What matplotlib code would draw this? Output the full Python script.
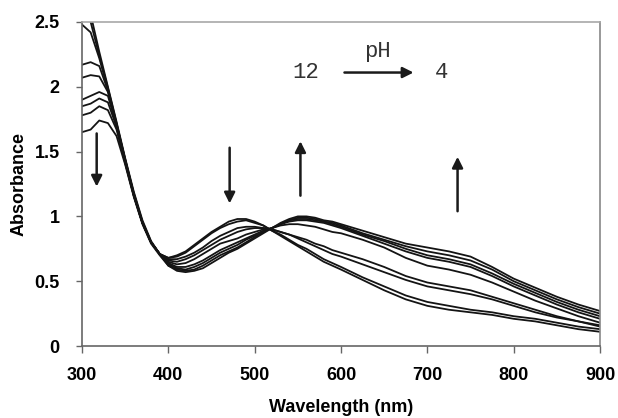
import matplotlib
matplotlib.use("Agg")
import matplotlib.pyplot as plt
import numpy as np

wavelength = [300, 310, 320, 330, 340, 350, 360, 370, 380, 390, 400, 410, 420, 430, 440,
              450, 460, 470, 480, 490, 500, 510, 520, 530, 540, 550, 560, 570, 580, 590,
              600, 625, 650, 675, 700, 725, 750, 775, 800, 825, 850, 875, 900]

# spectra from pH 12 (first) to pH 4 (last)
ph12_a = [2.85, 2.56, 2.27, 2.00, 1.73, 1.45, 1.19, 0.97, 0.81, 0.71, 0.68, 0.70, 0.73, 0.78, 0.83,
          0.88, 0.92, 0.96, 0.98, 0.98, 0.96, 0.93, 0.89, 0.85, 0.81, 0.77, 0.73, 0.69, 0.65, 0.62,
          0.59, 0.51, 0.43, 0.36, 0.31, 0.28, 0.26, 0.24, 0.21, 0.19, 0.16, 0.13, 0.11]
ph12_b = [2.72, 2.50, 2.24, 1.99, 1.72, 1.44, 1.18, 0.96, 0.80, 0.71, 0.68, 0.69, 0.72, 0.77, 0.82,
          0.87, 0.91, 0.94, 0.96, 0.97, 0.95, 0.93, 0.89, 0.86, 0.82, 0.78, 0.75, 0.71, 0.67, 0.64,
          0.61, 0.53, 0.46, 0.39, 0.34, 0.31, 0.28, 0.26, 0.23, 0.21, 0.18, 0.15, 0.13]
mid_a = [2.48, 2.42, 2.22, 1.98, 1.71, 1.44, 1.17, 0.95, 0.80, 0.71, 0.67, 0.67, 0.69, 0.72, 0.76,
         0.81, 0.85, 0.88, 0.91, 0.92, 0.92, 0.91, 0.90, 0.88, 0.86, 0.84, 0.82, 0.79, 0.77, 0.74,
         0.72, 0.67, 0.61, 0.54, 0.49, 0.46, 0.43, 0.38, 0.33, 0.28, 0.23, 0.19, 0.15]
mid_b = [2.17, 2.19, 2.16, 1.97, 1.71, 1.43, 1.17, 0.95, 0.80, 0.71, 0.66, 0.65, 0.67, 0.70, 0.74,
         0.78, 0.82, 0.85, 0.88, 0.90, 0.91, 0.91, 0.90, 0.88, 0.86, 0.83, 0.80, 0.77, 0.74, 0.71,
         0.69, 0.63, 0.57, 0.51, 0.46, 0.43, 0.40, 0.36, 0.31, 0.26, 0.22, 0.19, 0.16]
mid_c = [2.07, 2.09, 2.08, 1.96, 1.70, 1.43, 1.17, 0.95, 0.80, 0.71, 0.65, 0.63, 0.64, 0.67, 0.71,
         0.75, 0.79, 0.81, 0.83, 0.86, 0.88, 0.90, 0.91, 0.93, 0.94, 0.94, 0.93, 0.92, 0.90, 0.88,
         0.87, 0.82, 0.76, 0.68, 0.62, 0.59, 0.55, 0.49, 0.42, 0.35, 0.29, 0.23, 0.18]
ph4_a = [1.90, 1.93, 1.96, 1.93, 1.70, 1.42, 1.16, 0.95, 0.80, 0.71, 0.64, 0.61, 0.61, 0.63, 0.66,
         0.70, 0.74, 0.77, 0.80, 0.83, 0.86, 0.89, 0.91, 0.94, 0.96, 0.97, 0.97, 0.96, 0.95, 0.93,
         0.91, 0.85, 0.79, 0.73, 0.68, 0.65, 0.61, 0.54, 0.46, 0.39, 0.32, 0.26, 0.21]
ph4_b = [1.85, 1.87, 1.91, 1.88, 1.69, 1.42, 1.16, 0.95, 0.80, 0.71, 0.63, 0.60, 0.59, 0.61, 0.64,
         0.68, 0.72, 0.75, 0.78, 0.82, 0.85, 0.88, 0.91, 0.94, 0.97, 0.98, 0.98, 0.97, 0.96, 0.94,
         0.92, 0.86, 0.81, 0.75, 0.70, 0.67, 0.63, 0.56, 0.48, 0.41, 0.34, 0.28, 0.23]
ph4_c = [1.78, 1.80, 1.85, 1.82, 1.67, 1.41, 1.16, 0.95, 0.80, 0.71, 0.62, 0.59, 0.58, 0.59, 0.62,
         0.66, 0.70, 0.73, 0.76, 0.80, 0.84, 0.88, 0.91, 0.94, 0.97, 0.99, 0.99, 0.98, 0.96, 0.95,
         0.93, 0.87, 0.82, 0.77, 0.73, 0.70, 0.66, 0.59, 0.50, 0.43, 0.36, 0.30, 0.25]
ph4_d = [1.65, 1.67, 1.74, 1.72, 1.62, 1.40, 1.15, 0.94, 0.79, 0.70, 0.62, 0.58, 0.57, 0.58, 0.60,
         0.64, 0.68, 0.72, 0.75, 0.79, 0.83, 0.87, 0.91, 0.95, 0.98, 1.00, 1.00, 0.99, 0.97, 0.96,
         0.94, 0.89, 0.84, 0.79, 0.76, 0.73, 0.69, 0.61, 0.52, 0.45, 0.38, 0.32, 0.27]

spectra = [ph12_a, ph12_b, mid_a, mid_b, mid_c, ph4_a, ph4_b, ph4_c, ph4_d]

x_ticks = [300, 400, 500, 600, 700, 800, 900]
y_ticks = [0, 0.5, 1, 1.5, 2, 2.5]
y_tick_labels = ["0", "0.5", "1", "1.5", "2", "2.5"]

# arrows showing the change from pH 12 to pH 4: (wavelength, start, end)
trend_arrows = [(317, 1.64, 1.23), (471, 1.53, 1.10), (553, 1.16, 1.58), (735, 1.04, 1.46)]

fig = plt.figure(figsize=(6.18, 4.18), dpi=100)
ax = fig.add_axes([0.1327, 0.1722, 0.8382, 0.7752])

x = np.array(wavelength)
for s in spectra:
    ax.plot(x, np.array(s), '-', c="#141414", lw=1.3)

for wl, y0, y1 in trend_arrows:
    ax.annotate("", xy=(wl, y1), xytext=(wl, y0),
                arrowprops=dict(arrowstyle="-|>", color="#1a1a1a", lw=1.8, mutation_scale=16,
                                shrinkA=0, shrinkB=0))

mono = "Liberation Mono"
ax.text(559, 2.11, "12", family=mono, fontsize=16, ha="center", va="center", color="#333333")
ax.text(716, 2.11, "4", family=mono, fontsize=16, ha="center", va="center", color="#333333")
ax.text(642, 2.27, "pH", family=mono, fontsize=16, ha="center", va="center", color="#333333")
ax.annotate("", xy=(684, 2.11), xytext=(604, 2.11),
            arrowprops=dict(arrowstyle="-|>", color="#1a1a1a", lw=1.8, mutation_scale=16,
                            shrinkA=0, shrinkB=0))

ax.set_xlim(300, 900)
ax.set_ylim(0, 2.5)
ax.set_xticks(x_ticks)
ax.set_xticklabels([str(t) for t in x_ticks], fontsize=13, fontweight="bold", family="Liberation Sans")
ax.set_yticks(y_ticks)
ax.set_yticklabels(y_tick_labels, fontsize=13, fontweight="bold", family="Liberation Sans")
ax.tick_params(axis="y", direction="out", length=4, width=1, color="#666666", pad=12)
ax.tick_params(axis="x", direction="out", length=5, width=1, color="#666666", pad=10)

ax.spines["left"].set_color("#666666")
ax.spines["bottom"].set_color("#666666")
ax.spines["top"].set_color("#a8a8a8")
ax.spines["right"].set_color("#888888")
for sp in ax.spines.values():
    sp.set_linewidth(1.2)

ax.set_xlabel("Wavelength (nm)", fontsize=13, fontweight="bold", family="Liberation Sans", labelpad=11)
ax.set_ylabel("Absorbance", fontsize=13, fontweight="bold", family="Liberation Sans", labelpad=5)

fig.savefig("out.png", dpi=100)
